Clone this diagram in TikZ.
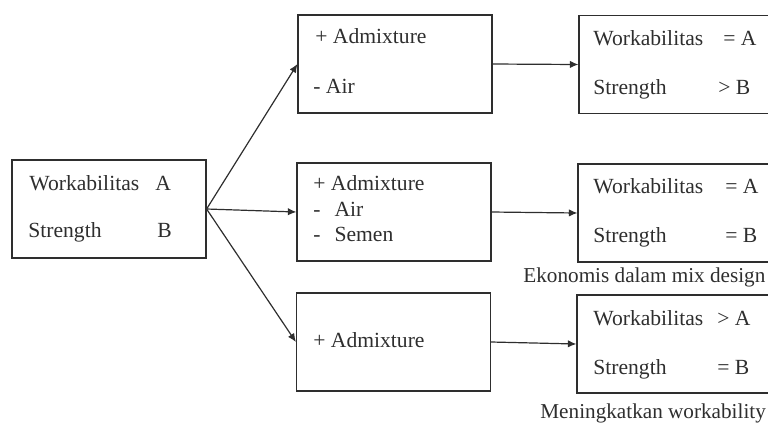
\documentclass[tikz,border=0pt]{standalone}
\usepackage{fontspec}
\setmainfont{Liberation Serif}
\usepackage{xcolor}
\definecolor{inkGrey}{HTML}{2E2E2E}
\usetikzlibrary{arrows.meta}
\tikzset{arrow/.style = {-{Latex[length = 1.5mm, width = 1.3mm]}}}
\tikzset{mixbox/.style = {draw = inkGrey, line width = 0.6pt, minimum width = 97pt, minimum height = 49pt, inner sep = 0pt}}
\tikzset{txt/.style = {anchor = base west, inner sep = 0pt, text = inkGrey, font = \fontsize{10.8}{12.5}\selectfont}}
\tikzset{note/.style = {anchor = base west, inner sep = 0pt, text = inkGrey, font = \fontsize{10.6}{12.5}\selectfont}}

\begin{document}
\begin{tikzpicture}[x = 0.5pt, y = -0.5pt]
	\useasboundingbox (0, 0) rectangle (768, 425);
	\clip (0, 0) rectangle (768, 425);

	%% Level 0
	\node[mixbox] (orig) at (109, 209) {};
	\node[txt] (origW) at (29, 190) {Workabilitas};
	\node[txt] (origA) at (155, 190) {A};
	\node[txt] (origS) at (28, 237) {Strength};
	\node[txt] (origB) at (157, 237) {B};

	%% Level 1
	\node[mixbox] (mixtop) at (395, 64) {};
	\node[txt] (mixtopA) at (315, 43) {+ Admixture};
	\node[txt] (mixtopB) at (313, 93) {- Air};

	\node[mixbox] (mixmid) at (394, 212) {};
	\node[txt] (mixmidA) at (313, 190) {+ Admixture};
	\node[txt] (mixmidB) at (313, 216) {-\hspace{7pt}Air};
	\node[txt] (mixmidC) at (313, 241) {-\hspace{7pt}Semen};

	\node[mixbox] (mixbot) at (393.5, 342) {};
	\node[txt] (mixbotA) at (313, 347) {+ Admixture};

	%% Level 2
	\node[mixbox] (restop) at (676, 64.5) {};
	\node[txt] (restopW) at (593, 45) {Workabilitas};
	\node[txt] (restopA) at (723, 45) {= A};
	\node[txt] (restopS) at (593, 94) {Strength};
	\node[txt] (restopB) at (718, 94) {> B};

	\node[mixbox] (resmid) at (675, 213) {};
	\node[txt] (resmidW) at (593, 193) {Workabilitas};
	\node[txt] (resmidA) at (725, 193) {= A};
	\node[txt] (resmidS) at (593, 242) {Strength};
	\node[txt] (resmidB) at (725, 242) {= B};
	\node[note] (resmidN) at (523, 282) {Ekonomis dalam mix design};

	\node[mixbox] (resbot) at (674, 344) {};
	\node[txt] (resbotW) at (593, 325) {Workabilitas};
	\node[txt] (resbotA) at (717, 325) {> A};
	\node[txt] (resbotS) at (593, 374) {Strength};
	\node[txt] (resbotB) at (717, 374) {= B};
	\node[note] (resbotN) at (540, 418) {Meningkatkan workability};

	%% Connectors
	\draw[arrow, draw = inkGrey, line width = 0.6pt] (orig.east) -- (mixtop.west);
	\draw[arrow, draw = inkGrey, line width = 0.6pt] (orig.east) -- (mixmid.west);
	\draw[arrow, draw = inkGrey, line width = 0.6pt] (orig.east) -- (mixbot.west);

	\draw[arrow, draw = inkGrey, line width = 0.6pt] (mixtop.east) -- (restop.west);
	\draw[arrow, draw = inkGrey, line width = 0.6pt] (mixmid.east) -- (resmid.west);
	\draw[arrow, draw = inkGrey, line width = 0.6pt] (mixbot.east) -- (resbot.west);

\end{tikzpicture}
\end{document}
